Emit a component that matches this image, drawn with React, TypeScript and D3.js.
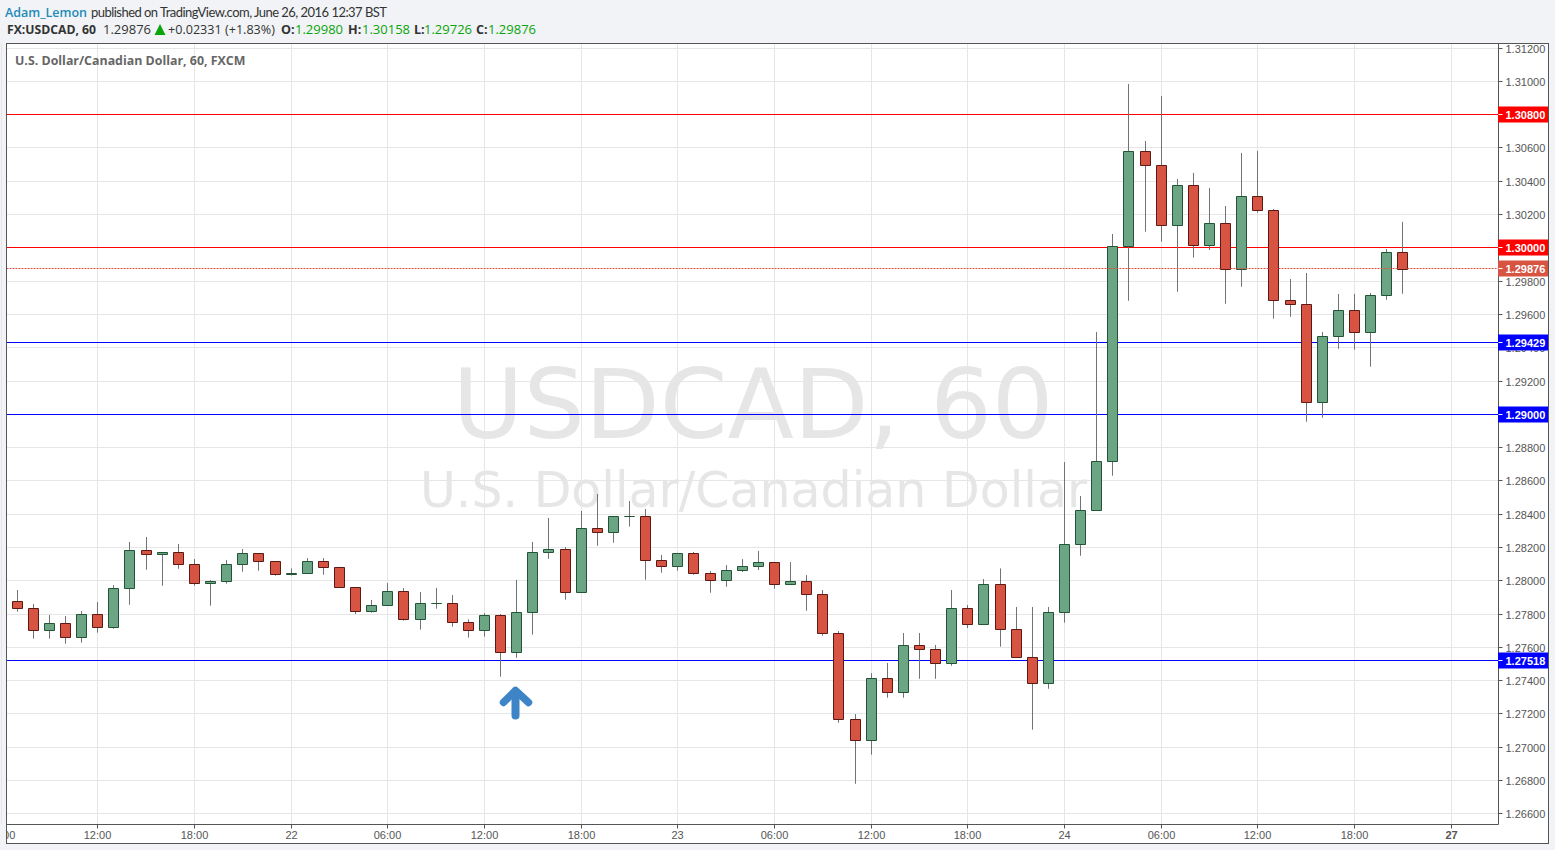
import React from "react";
import * as d3 from "d3";

const opens = [1.27878,1.27836,1.27704,1.27746,1.27662,1.278,1.27722,1.27956,1.28185,1.28161,1.28173,1.28101,1.27986,1.27998,1.28101,1.28167,1.28119,1.28041,1.28047,1.28119,1.28083,1.27962,1.27818,1.27854,1.27938,1.2777,1.27866,1.27866,1.27752,1.27704,1.27794,1.27572,1.27812,1.28173,1.28191,1.27932,1.28317,1.28293,1.28389,1.28389,1.28125,1.28089,1.28167,1.28047,1.28005,1.28065,1.28089,1.28113,1.2798,1.27998,1.2792,1.27686,1.27169,1.27043,1.27416,1.27332,1.27614,1.2759,1.27506,1.27836,1.2774,1.2798,1.2771,1.27542,1.27386,1.27812,1.28221,1.28425,1.28719,1.30011,1.30582,1.30498,1.30137,1.30378,1.30017,1.30149,1.29873,1.30312,1.30227,1.29687,1.29663,1.29074,1.2947,1.29627,1.29494,1.29717,1.29975];
const highs = [1.27946,1.27862,1.27796,1.2779,1.2782,1.27874,1.27976,1.28235,1.28265,1.28175,1.28223,1.28132,1.28006,1.28126,1.28193,1.28169,1.28121,1.28076,1.28138,1.28138,1.28085,1.27964,1.27886,1.27988,1.27958,1.27934,1.27958,1.27916,1.2777,1.27808,1.27802,1.28006,1.28235,1.28379,1.28205,1.28421,1.28523,1.28391,1.28481,1.28433,1.28157,1.28169,1.28175,1.2806,1.28096,1.28132,1.28181,1.28115,1.28114,1.28036,1.27946,1.277,1.27201,1.27447,1.27508,1.27688,1.27688,1.27616,1.27946,1.27856,1.28012,1.28076,1.27844,1.27844,1.27844,1.28715,1.28511,1.29496,1.30085,1.30986,1.30644,1.30914,1.30416,1.30452,1.30361,1.30253,1.30572,1.30584,1.30235,1.29815,1.29851,1.29496,1.29725,1.29725,1.29731,1.29995,1.30158];
const lows = [1.27816,1.27654,1.27654,1.27624,1.2763,1.2769,1.27714,1.27858,1.28068,1.27972,1.28074,1.27972,1.27852,1.27984,1.28056,1.28062,1.28032,1.28034,1.28045,1.28038,1.2796,1.27802,1.2781,1.27852,1.27762,1.27708,1.27834,1.27726,1.2766,1.27666,1.27425,1.27539,1.27678,1.28134,1.27888,1.2793,1.28212,1.2823,1.28327,1.28008,1.2805,1.28062,1.28038,1.2793,1.27966,1.28054,1.28066,1.27954,1.27978,1.27822,1.27672,1.27149,1.26782,1.26957,1.27299,1.27299,1.27413,1.27413,1.27491,1.27718,1.27738,1.27606,1.2754,1.27107,1.27353,1.2775,1.28152,1.28423,1.28633,1.29684,1.30099,1.30039,1.29738,1.29943,1.29989,1.29666,1.29768,1.30213,1.29576,1.29588,1.28957,1.28981,1.29396,1.2939,1.29288,1.2969,1.29726];
const closes = [1.27836,1.27704,1.27746,1.27662,1.278,1.27722,1.27956,1.28185,1.28161,1.28173,1.28101,1.27986,1.27998,1.28101,1.28167,1.28119,1.28041,1.28047,1.28119,1.28083,1.27962,1.27818,1.27854,1.27938,1.2777,1.27866,1.27866,1.27752,1.27704,1.27794,1.27572,1.27812,1.28173,1.28191,1.27932,1.28317,1.28293,1.28389,1.28389,1.28125,1.28089,1.28167,1.28047,1.28005,1.28065,1.28089,1.28113,1.2798,1.27998,1.2792,1.27686,1.27169,1.27043,1.27416,1.27332,1.27614,1.2759,1.27506,1.27836,1.2774,1.2798,1.2771,1.27542,1.27386,1.27812,1.28221,1.28425,1.28719,1.30011,1.30582,1.30498,1.30137,1.30378,1.30017,1.30149,1.29873,1.30312,1.30227,1.29687,1.29663,1.29074,1.2947,1.29627,1.29494,1.29717,1.29975,1.29873];

const priceTicks = [1.312,1.31,1.308,1.306,1.304,1.302,1.3,1.298,1.296,1.294,1.292,1.29,1.288,1.286,1.284,1.282,1.28,1.278,1.276,1.274,1.272,1.27,1.268,1.266];
const timeTickIndex = [-1,5,11,17,23,29,35,41,47,53,59,65,71,77,83,89];
const timeTickLabels = ["06:00","12:00","18:00","22","06:00","12:00","18:00","23","06:00","12:00","18:00","24","06:00","12:00","18:00","27"];
const levelPrices = [1.308,1.3,1.29429,1.29,1.27518];
const levelColors = ["#ff0000","#ff0000","#0000ff","#0000ff","#0000ff"];
const lastPrice = 1.29876;
const arrowIndex = 31;
const arrowTipPrice = 1.27373;

const F = { l: 6.5, t: 43.5, r: 1498.5, b: 824.5, outerR: 1548.5, outerB: 843.5 };
const SANS = "'Liberation Sans', Arial, sans-serif";
const HEAD = "'Open Sans', sans-serif";
const TOP = "Lato, sans-serif";
const MARK = "'DejaVu Sans', sans-serif";
const UP = { fill: "#6ba583", stroke: "#225437" };
const DOWN = { fill: "#d75442", stroke: "#5b1a13" };

const x = d3.scaleLinear().domain([0, 86]).range([17.2, 1402.9]);
const y = d3.scaleLinear().domain([1.31, 1.266]).range([81.7, 814.1]);
const gridY = (p: number) => Math.floor(y(p) - 0.3) + 0.5;
const px = (v: number) => Math.floor(v) + 0.5;

function bodyPath(xc: number, top: number, bot: number) {
  const p = d3.path();
  p.moveTo(xc - 5, top);
  p.lineTo(xc + 5, top);
  p.lineTo(xc + 5, bot);
  p.lineTo(xc - 5, bot);
  p.closePath();
  return p.toString();
}

export default function App() {
  const ax = px(x(arrowIndex)) - 1;
  const ay = y(arrowTipPrice);
  return (
    <div style={{ position: "fixed", left: 0, top: 0, width: 1555, height: 850, overflow: "hidden" }}>
      <svg width={1555} height={850} style={{ display: "block" }}>
        <defs>
          <clipPath id="plot"><rect x={F.l} y={F.t} width={F.r - F.l} height={F.b - F.t} /></clipPath>
          <clipPath id="time"><rect x={F.l} y={F.b} width={F.outerR - F.l} height={F.outerB - F.b} /></clipPath>
        </defs>
        <rect width={1555} height={850} fill="#f1f3f6" />
        <rect x={F.l} y={F.t} width={F.outerR - F.l} height={F.outerB - F.t} fill="#fff" />

        <text x={5} y={16.5} fontFamily={HEAD} fontSize={12.5} fontWeight={600} fill="#1f8bb8">Adam_Lemon</text>
        <text x={91} y={16.5} fontFamily={TOP} fontSize={13} fill="#333" textLength={296} lengthAdjust="spacing">published on TradingView.com, June 26, 2016 12:37 BST</text>
        <g fontFamily={HEAD} fontSize={12.6} fill="#333">
          <text x={7} y={34} fontWeight={700} fontSize={12.2}>FX:USDCAD, 60</text>
          <text x={103} y={34} fontSize={13}>1.29876</text>
          <path d="M154.5 35 L160 24 L165.5 35 Z" fill="#0aa50a" />
          <text x={168} y={34}>+0.02331 (+1.83%)</text>
          <text x={281} y={34} fontWeight={700}>O:</text>
          <text x={295} y={34} fontSize={13} fill="#0aa50a">1.29980</text>
          <text x={348} y={34} fontWeight={700}>H:</text>
          <text x={362} y={34} fontSize={13} fill="#0aa50a">1.30158</text>
          <text x={414} y={34} fontWeight={700}>L:</text>
          <text x={424} y={34} fontSize={13} fill="#0aa50a">1.29726</text>
          <text x={476} y={34} fontWeight={700}>C:</text>
          <text x={488} y={34} fontSize={13} fill="#0aa50a">1.29876</text>
        </g>

        <g stroke="#e6e6e6" strokeWidth={1}>
          {priceTicks.map((p) => <line key={p} x1={F.l} x2={F.r} y1={gridY(p)} y2={gridY(p)} />)}
          {timeTickIndex.map((i) => <line key={i} x1={px(x(i))} x2={px(x(i))} y1={F.t} y2={F.b} />)}
        </g>

        <g clipPath="url(#plot)" fontFamily={MARK} fill="#e6e6e6" textAnchor="middle">
          <text x={753} y={438} fontSize={97}>USDCAD, 60</text>
          <text x={753.5} y={507} fontSize={49}>U.S. Dollar/Canadian Dollar</text>
        </g>

        <text x={15} y={65} fontFamily={HEAD} fontSize={12.4} fontWeight={700} fill="#666">U.S. Dollar/Canadian Dollar, 60, FXCM</text>

        <g clipPath="url(#plot)">
          {levelPrices.map((p, i) => (
            <line key={p} x1={F.l} x2={F.r} y1={gridY(p)} y2={gridY(p)} stroke={levelColors[i]} strokeWidth={1} />
          ))}
          {opens.map((o, i) => {
            const xc = px(x(i));
            return <line key={i} x1={xc} x2={xc} y1={y(highs[i])} y2={y(lows[i])} stroke="#737375" strokeWidth={1} />;
          })}
          {opens.map((o, i) => {
            const c = closes[i];
            const s = c >= o ? UP : DOWN;
            const top = px(y(Math.max(o, c)));
            const bot = px(y(Math.min(o, c)));
            return <path key={i} d={bodyPath(px(x(i)), top, bot)} fill={s.fill} stroke={s.stroke} strokeWidth={1} />;
          })}
          <line x1={F.l} x2={F.r} y1={gridY(lastPrice)} y2={gridY(lastPrice)} stroke="#d75442" strokeWidth={1} strokeDasharray="2 1" />
          <g fill="none" stroke="#3d85c6" strokeLinejoin="round" strokeLinecap="round">
            <path d={`M${ax} ${ay + 30} V${ay + 8}`} strokeWidth={8} />
            <path d={`M${ax - 12} ${ay + 17} L${ax} ${ay + 5} L${ax + 13} ${ay + 17}`} strokeWidth={7.5} />
          </g>
        </g>

        <rect x={F.l} y={F.t} width={F.outerR - F.l} height={F.outerB - F.t} fill="none" stroke="#555" />
        <line x1={F.r} x2={F.r} y1={F.t} y2={F.b} stroke="#555" />
        <line x1={F.l} x2={F.r} y1={F.b} y2={F.b} stroke="#555" />

        <g fontFamily={SANS} fontSize={11} fill="#555">
          {priceTicks.map((p) => (
            <g key={p}>
              <line x1={F.r} x2={F.r + 4} y1={gridY(p)} y2={gridY(p)} stroke="#555" />
              <text x={1505.5} y={gridY(p) + 4}>{p.toFixed(5)}</text>
            </g>
          ))}
        </g>

        <g clipPath="url(#time)" fontFamily={SANS} fontSize={11} fill="#555" textAnchor="middle">
          {timeTickIndex.map((i, k) => (
            <g key={i}>
              <line x1={px(x(i))} x2={px(x(i))} y1={F.b} y2={F.b + 4} stroke="#555" />
              <text x={px(x(i))} y={839} fontWeight={timeTickLabels[k] === "27" ? 700 : 400}>{timeTickLabels[k]}</text>
            </g>
          ))}
        </g>

        <g fontFamily={SANS} fontSize={11} fontWeight={700} fill="#fff">
          {levelPrices.map((p, i) => (
            <g key={p}>
              <rect x={F.r - 0.5} y={gridY(p) - 8} width={50} height={16} fill={levelColors[i]} />
              <line x1={F.r} x2={F.r + 4} y1={gridY(p)} y2={gridY(p)} stroke="#fff" />
              <text x={1505.5} y={gridY(p) + 4}>{p.toFixed(5)}</text>
            </g>
          ))}
          <rect x={F.r - 0.5} y={gridY(lastPrice) - 8} width={50} height={16} fill="#d75442" />
          <line x1={F.r} x2={F.r + 4} y1={gridY(lastPrice)} y2={gridY(lastPrice)} stroke="#fff" />
          <text x={1505.5} y={gridY(lastPrice) + 4}>{lastPrice.toFixed(5)}</text>
        </g>
      </svg>
    </div>
  );
}
